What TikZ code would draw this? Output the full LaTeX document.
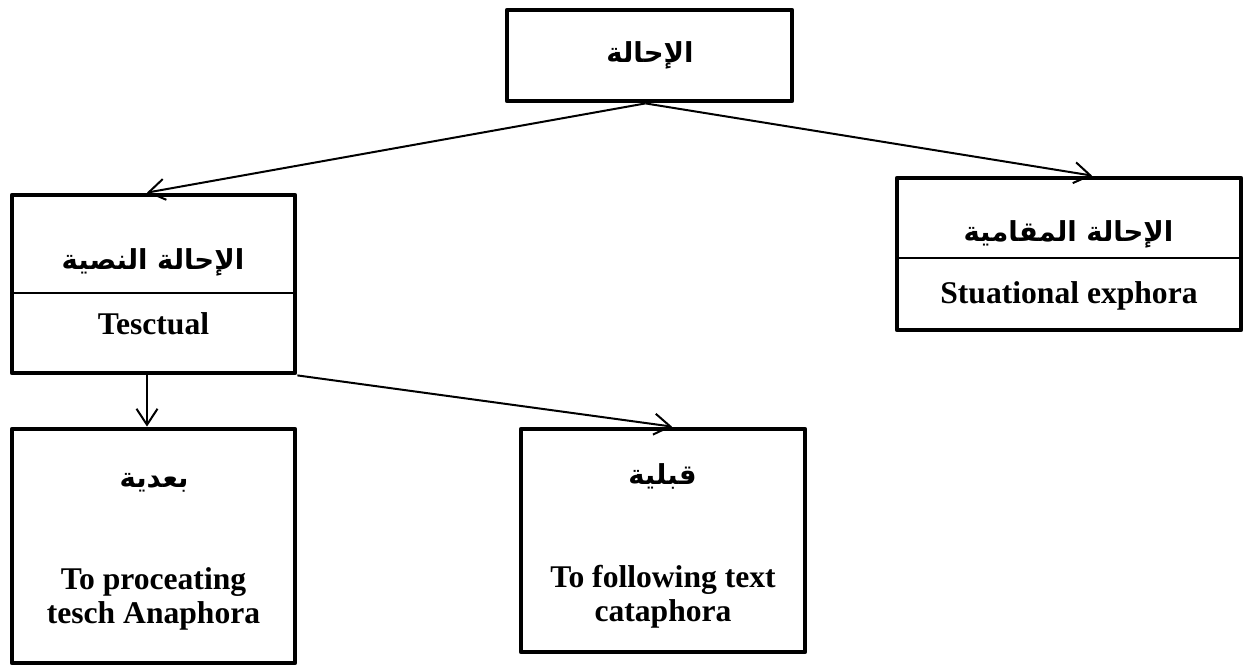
\documentclass[tikz,border=0pt]{standalone}
\usepackage{fontspec}
\setmainfont{Liberation Serif}
\newfontfamily\arabicfont[Script=Arabic]{DejaVu Sans}
\TeXXeTstate=1
\usetikzlibrary{arrows.meta}
\begin{document}
\begin{tikzpicture}[x=1pt,y=-1pt,
  frame/.style={draw, line width=4.8pt, line join=round, rectangle, inner sep=0pt},
  ar/.style={inner sep=0pt, font=\arabicfont\bfseries\fontsize{27.5}{32}\selectfont},
  en/.style={inner sep=0pt, align=center, font=\bfseries\fontsize{31.6}{34}\selectfont},
  conn/.style={line width=2pt, -{Straight Barb[length=16pt,width=21pt,line width=2pt]}},
  divider/.style={line width=1.5pt}]
\useasboundingbox (0,0) rectangle (1246,665);
% boxes
\node[frame, minimum width=285pt, minimum height=91pt] (top) at (649.5,55.5) {};
\node[frame, minimum width=283pt, minimum height=178pt] (left) at (153.5,284) {};
\node[frame, minimum width=344pt, minimum height=152pt] (right) at (1069,254) {};
\node[frame, minimum width=283pt, minimum height=234pt] (bl) at (153.5,546) {};
\node[frame, minimum width=284pt, minimum height=223pt] (bm) at (663,540.5) {};
% dividers
\coordinate (ldl) at (12,293);
\coordinate (ldr) at (295,293);
\coordinate (rdl) at (897,258);
\coordinate (rdr) at (1241,258);
\draw[divider] (ldl) -- (ldr);
\draw[divider] (rdl) -- (rdr);
% texts
\node[ar] (t1) at (650,55) {\beginR الإحالة\endR};
\node[ar] (t2) at (153,262) {\beginR الإحالة النصية\endR};
\node[en, anchor=base] (t3) at (153.5,334) {Tesctual};
\node[ar] (t4) at (1068.5,234) {\beginR الإحالة المقامية\endR};
\node[en, anchor=base] (t5) at (1069,303) {Stuational exphora};
\node[ar] (t6) at (154,483) {\beginR بعدية\endR};
\node[en, anchor=north] (t7) at (153.5,567) {To proceating\\tesch Anaphora};
\node[ar] (t8) at (662.5,476) {\beginR قبلية\endR};
\node[en, anchor=north] (t9) at (663,565) {To following text\\cataphora};
% connectors
\coordinate (ts) at ([xshift=-4pt]top.south);
\draw[conn] (ts) -- ([xshift=-6.5pt]left.north);
\draw[conn] (ts) -- ([xshift=23pt]right.north);
\draw[conn] ([xshift=-6.5pt]left.south) -- ([xshift=-6.5pt]bl.north);
\draw[conn] (left.south east) -- ([xshift=9pt]bm.north);
\end{tikzpicture}
\end{document}
